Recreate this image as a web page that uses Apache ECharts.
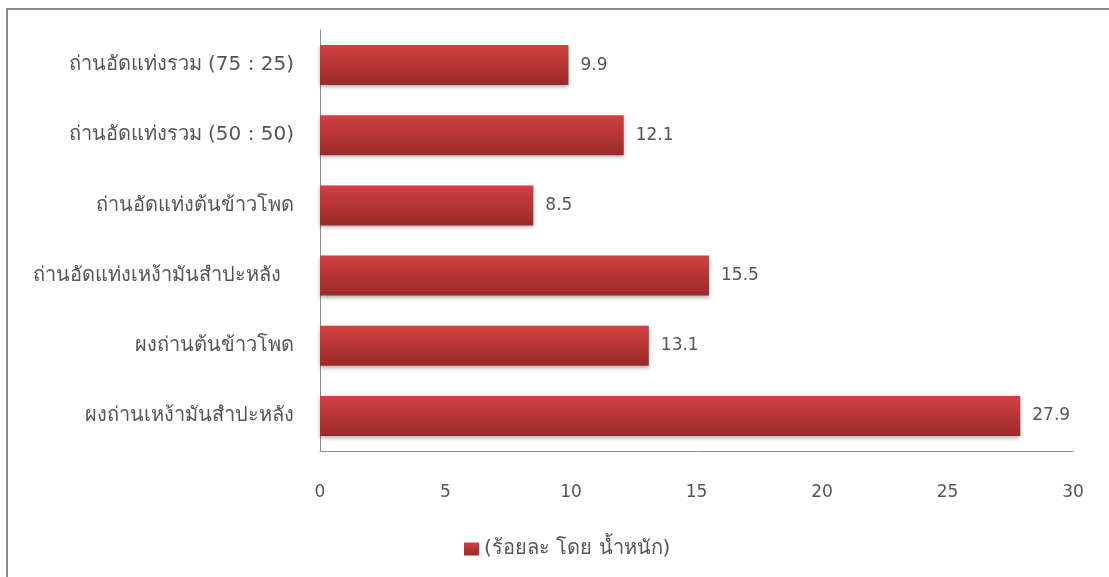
<!DOCTYPE html>
<html>
<head>
<meta charset="utf-8">
<script src="https://cdn.jsdelivr.net/npm/echarts@6/dist/echarts.min.js"></script>
<style>
html,body{margin:0;padding:0;background:#fff;}
#c{width:1109px;height:577px;}
</style>
</head>
<body>
<div id="c"></div>
<script>
const categories = [
  'ผงถ่านเหง้ามันสำปะหลัง',
  'ผงถ่านต้นข้าวโพด',
  'ถ่านอัดแท่งเหง้ามันสำปะหลัง  ',
  'ถ่านอัดแท่งต้นข้าวโพด',
  'ถ่านอัดแท่งรวม (50 : 50)',
  'ถ่านอัดแท่งรวม (75 : 25)'
];
const values = [27.9, 13.1, 15.5, 8.5, 12.1, 9.9];
const seriesName = '(ร้อยละ โดย น้ำหนัก)';
const xTicks = [0, 5, 10, 15, 20, 25, 30];

const font = '"DejaVu Sans", "Noto Sans", sans-serif';
const textColor = '#555555';
const chart = echarts.init(document.getElementById('c'));
const grad = new echarts.graphic.LinearGradient(0, 0, 0, 1, [
  {offset: 0, color: '#d24040'},
  {offset: 1, color: '#9a2a2a'}
]);
chart.setOption({
  animation: false,
  backgroundColor: '#fff',
  graphic: [
    {type: 'line', shape: {x1: 7, y1: 9, x2: 1109, y2: 9}, style: {stroke: '#8a8a8a', lineWidth: 2}},
    {type: 'line', shape: {x1: 7, y1: 8, x2: 7, y2: 577}, style: {stroke: '#8a8a8a', lineWidth: 2}}
  ],
  grid: {left: 320, right: 36, top: 30, bottom: 126},
  legend: {
    bottom: 13, left: 459,
    icon: 'rect',
    itemWidth: 15, itemHeight: 13, itemGap: 8,
    textStyle: {fontFamily: font, fontSize: 20, color: textColor},
    data: [seriesName]
  },
  xAxis: {
    type: 'value', min: 0, max: 30, interval: 5,
    axisLine: {show: true, lineStyle: {color: '#8c8c8c', width: 1}},
    axisTick: {show: false},
    splitLine: {show: false},
    axisLabel: {fontFamily: font, fontSize: 17, color: textColor, margin: 33,
      formatter: v => xTicks.includes(v) ? String(v) : ''}
  },
  yAxis: {
    type: 'category', data: categories,
    axisLine: {show: true, lineStyle: {color: '#8c8c8c', width: 1}},
    axisTick: {show: false},
    axisLabel: {fontFamily: font, fontSize: 20, color: textColor, margin: 26}
  },
  series: [{
    name: seriesName, type: 'bar', data: values,
    barCategoryGap: '43%',
    itemStyle: {color: grad, shadowColor: 'rgba(0,0,0,0.3)', shadowBlur: 4, shadowOffsetY: 2},
    label: {show: true, position: 'right', distance: 12, fontFamily: font, fontSize: 17, color: textColor,
      formatter: p => p.value.toFixed(1)}
  }]
});
</script>
</body>
</html>
